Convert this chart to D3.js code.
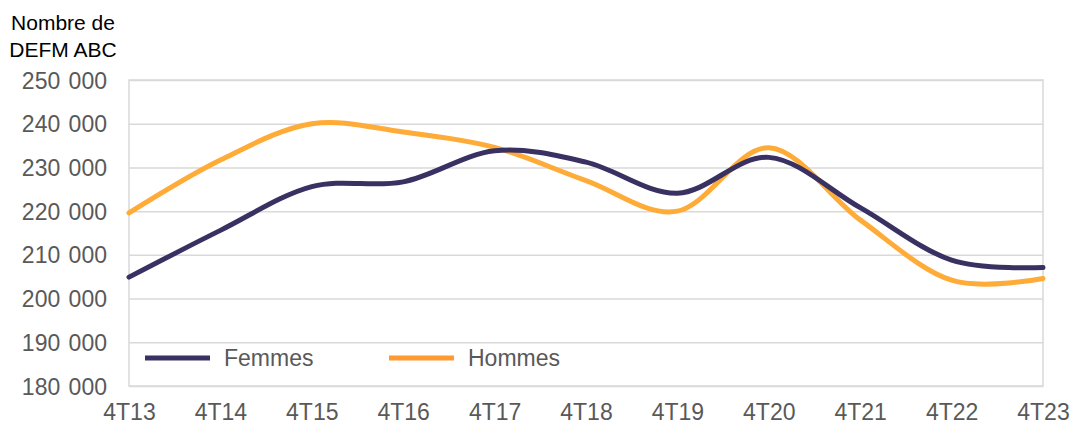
<!DOCTYPE html>
<html>
<head>
<meta charset="utf-8">
<script src="https://cdn.jsdelivr.net/npm/d3@7"></script>
<style>
  body { margin: 0; background: #fff; }
  text { font-family: "Liberation Sans", Arial, sans-serif; }
</style>
</head>
<body>
<svg id="chart" width="1072" height="423"></svg>
<script>
var quarters = [ '4T13', '4T14', '4T15', '4T16', '4T17', '4T18', '4T19', '4T20', '4T21', '4T22', '4T23' ];
var femmes = [ 204900, 215600, 225600, 226700, 233800, 231200, 224100, 232300, 220800, 208800, 207100 ];
var hommes = [ 219600, 231700, 240000, 238100, 234600, 227000, 220000, 234500, 218000, 204200, 204600 ];
var yTicks = [ 180000, 190000, 200000, 210000, 220000, 230000, 240000, 250000 ];
var seriesNames = [ 'Femmes', 'Hommes' ];

var svg = d3.select( '#chart' ),
  margin = { top: 80, right: 29, bottom: 37, left: 129 },
  width = +svg.attr( 'width' ),
  height = +svg.attr( 'height' );

var x = d3.scalePoint()
  .domain( quarters )
  .range( [ margin.left, width - margin.right ] );

var y = d3.scaleLinear()
  .domain( [ 180000, 250000 ] )
  .range( [ height - margin.bottom, margin.top ] );

var z = d3.scaleOrdinal()
  .domain( seriesNames )
  .range( [ '#3a3163', '#ffab38' ] );

var fmt = d => d3.format( ',' )( d ).replace( ',', ' ' );

// grid
svg.append( 'g' )
  .attr( 'class', 'grid' )
  .attr( 'transform', 'translate(' + margin.left + ',0)' )
  .call( d3.axisLeft( y ).tickValues( yTicks ).tickSize( -( width - margin.left - margin.right ) ).tickFormat( '' ) )
  .call( g => g.select( '.domain' ).remove() )
  .call( g => g.selectAll( 'line' ).attr( 'stroke', '#d9d9d9' ).attr( 'stroke-width', 1.5 ) );

// plot border
svg.append( 'rect' )
  .attr( 'x', margin.left )
  .attr( 'y', margin.top )
  .attr( 'width', width - margin.left - margin.right )
  .attr( 'height', height - margin.top - margin.bottom )
  .attr( 'fill', 'none' )
  .attr( 'stroke', '#d9d9d9' )
  .attr( 'stroke-width', 1.5 );

// y labels
svg.append( 'g' )
  .attr( 'transform', 'translate(' + ( margin.left - 22 ) + ',0)' )
  .call( d3.axisLeft( y ).tickValues( yTicks ).tickSize( 0 ).tickFormat( fmt ) )
  .call( g => g.select( '.domain' ).remove() )
  .call( g => g.selectAll( 'text' )
    .attr( 'x', 0 )
    .attr( 'dy', '0.35em' )
    .style( 'font-size', '23px' )
    .style( 'word-spacing', '2px' )
    .attr( 'fill', '#595959' ) );

// x labels
svg.append( 'g' )
  .attr( 'transform', 'translate(0,' + ( height - margin.bottom ) + ')' )
  .call( d3.axisBottom( x ).tickSize( 0 ) )
  .call( g => g.select( '.domain' ).remove() )
  .call( g => g.selectAll( 'text' )
    .attr( 'y', 34 )
    .attr( 'dy', 0 )
    .style( 'font-size', '23px' )
    .attr( 'fill', '#595959' ) );

// axis title
svg.append( 'text' )
  .attr( 'x', 63 )
  .attr( 'y', 30 )
  .attr( 'text-anchor', 'middle' )
  .style( 'font-size', '21px' )
  .attr( 'fill', '#000' )
  .text( 'Nombre de' );

svg.append( 'text' )
  .attr( 'x', 63 )
  .attr( 'y', 57 )
  .attr( 'text-anchor', 'middle' )
  .style( 'font-size', '21px' )
  .attr( 'fill', '#000' )
  .text( 'DEFM ABC' );

// lines
var line = d3.line()
  .curve( d3.curveCatmullRom.alpha( 0 ) )
  .x( ( d, i ) => x( quarters[ i ] ) )
  .y( d => y( d ) );

var series = [
  { id: 'Hommes', values: hommes },
  { id: 'Femmes', values: femmes }
];

svg.selectAll( '.serie' )
  .data( series )
  .enter().append( 'path' )
    .attr( 'class', 'serie' )
    .attr( 'fill', 'none' )
    .attr( 'stroke', d => z( d.id ) )
    .attr( 'stroke-width', 5 )
    .attr( 'stroke-linecap', 'round' )
    .attr( 'd', d => line( d.values ) );

// legend
var legends = svg.append( 'g' )
  .attr( 'class', 'legend' )
  .selectAll( 'g' )
  .data( seriesNames )
  .enter().append( 'g' )
    .attr( 'transform', ( d, i ) => 'translate(' + ( 145 + i * 244 ) + ',358)' );

legends.append( 'line' )
  .attr( 'x1', 0 )
  .attr( 'x2', 65 )
  .attr( 'stroke', d => d === 'Hommes' ? '#ff9a33' : z( d ) )
  .attr( 'stroke-width', 5 );

legends.append( 'text' )
  .attr( 'x', 79 )
  .attr( 'y', 8 )
  .style( 'font-size', '23px' )
  .attr( 'fill', '#595959' )
  .text( d => d );
</script>
</body>
</html>
